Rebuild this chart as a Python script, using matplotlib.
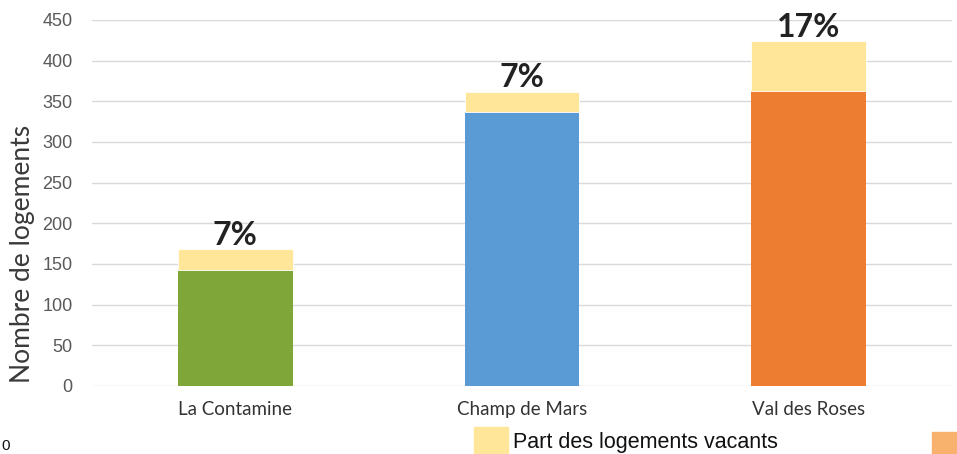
import numpy as np
import matplotlib.pyplot as plt
from matplotlib.patches import Rectangle

# Data
quartiers = ["La Contamine", "Champ de Mars", "Val des Roses"]
occupes = [143, 337, 363]
vacants = [25, 25, 61]
part_vacants = ["7%", "7%", "17%"]
couleurs = ["#7FA638", "#5B9BD5", "#ED7D31"]
yticks = [0, 50, 100, 150, 200, 250, 300, 350, 400, 450]

fig = plt.figure(figsize=(9.57, 4.54), dpi=100)
ax = fig.add_axes([92 / 957, 1 - 386 / 454, 860 / 957, 366 / 454])

x = np.arange(len(quartiers))
ax.bar(x, occupes, width=0.4, color=couleurs, zorder=2)
ax.bar(x, vacants, width=0.4, bottom=occupes, color="#FFE699",
       edgecolor="white", linewidth=0.6, zorder=2)

# percentage labels above each stack
for xi, o, v, lab in zip(x, occupes, vacants, part_vacants):
    ax.text(xi, o + v - 1, lab, ha="center", va="bottom", fontsize=23,
            fontweight="bold", family="Lato", color="#222222")

ax.set_xlim(-0.5, 2.5)
ax.set_ylim(0, 450)
ax.set_yticks(yticks)
ax.set_xticks(x)
ax.set_xticklabels(quartiers, family="Lato", fontsize=13.5, color="#333333")
ax.tick_params(axis="y", labelsize=13, labelcolor="#595959", length=0, pad=14)
ax.tick_params(axis="x", length=0, pad=11)
for lab in ax.get_yticklabels():
    lab.set_family("Liberation Sans")
ax.grid(axis="y", color="#D9D9D9", linewidth=1, zorder=0)
for s in ax.spines.values():
    s.set_visible(False)
ax.set_ylabel("Nombre de logements", family="Lato", fontsize=19,
              color="#3A3A3A", labelpad=6)
ax.yaxis.set_label_coords(-0.066, 0.36)

# legend fragment at the bottom (cropped in the original)
fig.patches.append(Rectangle((474 / 957, 0), 34 / 957, 27 / 454,
                             transform=fig.transFigure, color="#FFE699"))
fig.text(513 / 957, 1 / 454, "Part des logements vacants", family="Liberation Sans",
         fontsize=15.5, color="#111111", va="bottom")
fig.patches.append(Rectangle((932 / 957, 0), 25 / 957, 22 / 454,
                             transform=fig.transFigure, color="#F9B26D"))
fig.text(1 / 957, 1 / 454, "0", family="Liberation Sans", fontsize=11,
         color="#111111", va="bottom")

fig.savefig("out.png", dpi=100)
